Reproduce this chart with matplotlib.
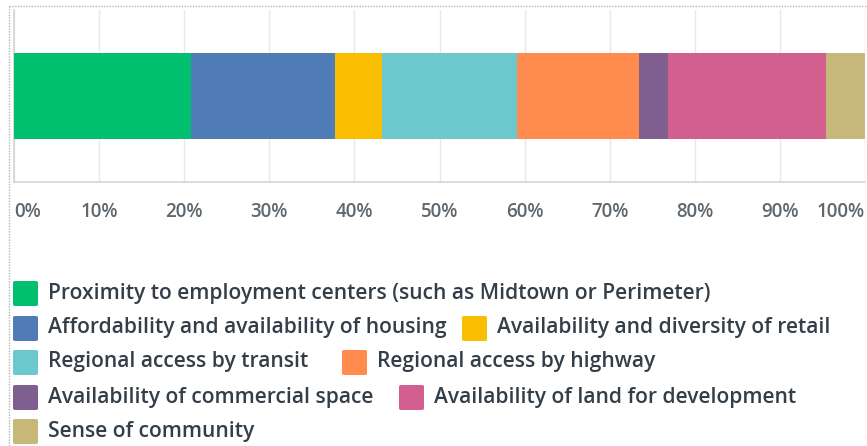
import matplotlib.pyplot as plt
from matplotlib.patches import FancyBboxPatch
from matplotlib.lines import Line2D

# answer shares (percent of respondents)
categories = [
    "Proximity to employment centers (such as Midtown or Perimeter)",
    "Affordability and availability of housing",
    "Availability and diversity of retail",
    "Regional access by transit",
    "Regional access by highway",
    "Availability of commercial space",
    "Availability of land for development",
    "Sense of community",
]
shares = [20.8, 16.9, 5.6, 15.8, 14.4, 3.4, 18.5, 4.6]
colors = ["#00bf6f", "#507cb6", "#f9be00", "#6bc8cd",
          "#ff8b4f", "#7f5f90", "#d25f90", "#c7b879"]
tick_values = [0, 10, 20, 30, 40, 50, 60, 70, 80, 90, 100]
tick_labels = [f"{v}%" for v in tick_values]

# legend flow layout: (row, x of swatch in px)
legend_slots = [(0, 12), (1, 12), (1, 461), (2, 12), (2, 341), (3, 12), (3, 398), (4, 12)]

W, H = 867, 446
FONT = "Open Sans"
plt.rcParams['font.family'] = [FONT, 'DejaVu Sans']

fig = plt.figure(figsize=(W / 100, H / 100), dpi=100)
ax = fig.add_axes([14 / W, (H - 182) / H, (865 - 14) / W, (182 - 10) / H])

left = 0
for val, col in zip(shares, colors):
    ax.barh(0, val, left=left, height=1.0, color=col, edgecolor='none', zorder=3)
    left += val

ax.set_xlim(0, 100)
ax.set_ylim(-1, 1)
ax.set_yticks([])
ax.set_xticks(tick_values)
ax.set_xticklabels([])
ax.tick_params(axis='x', length=0)
ax.grid(axis='x', color='#e9e9e9', lw=1, zorder=0)
for s in ['top', 'right']:
    ax.spines[s].set_visible(False)
for s in ['left', 'bottom']:
    ax.spines[s].set_color('#d5d5d5')
    ax.spines[s].set_linewidth(1.2)

# x tick labels at y=212 px, first and last pinned to the plot edges
lab_y = (182 - 212) / (182 - 10)
for i, (v, lab) in enumerate(zip(tick_values, tick_labels)):
    ha = 'center'
    if i == 0:
        ha = 'left'
    elif i == len(tick_values) - 1:
        ha = 'right'
    ax.text(v, lab_y, lab, transform=ax.get_xaxis_transform(),
            ha=ha, va='center', fontsize=13.5, color='#5f686f', fontweight='semibold')

# legend
row_y = [293, 328, 362, 397, 431]
for (row, x0), lab, col in zip(legend_slots, categories, colors):
    yc = row_y[row]
    sw = FancyBboxPatch(((x0 + 1) / W, (H - yc - 13) / H), 25 / W, 25 / H,
                        boxstyle="round,pad=0,rounding_size=0.003",
                        transform=fig.transFigure, facecolor=col, edgecolor='none')
    fig.patches.append(sw)
    fig.text((x0 + 36) / W, (H - yc) / H, lab, ha='left', va='center',
             fontsize=15.1, color='#333e48', fontweight='semibold')

# dotted frame on top and left
fig.add_artist(Line2D([9 / W, 1], [(H - 6) / H] * 2, transform=fig.transFigure,
                      color='#b5b5b5', lw=1, ls=(0, (1, 1))))
fig.add_artist(Line2D([9 / W] * 2, [0, (H - 6) / H], transform=fig.transFigure,
                      color='#b5b5b5', lw=1, ls=(0, (1, 1))))

fig.savefig("out.png", dpi=100)
